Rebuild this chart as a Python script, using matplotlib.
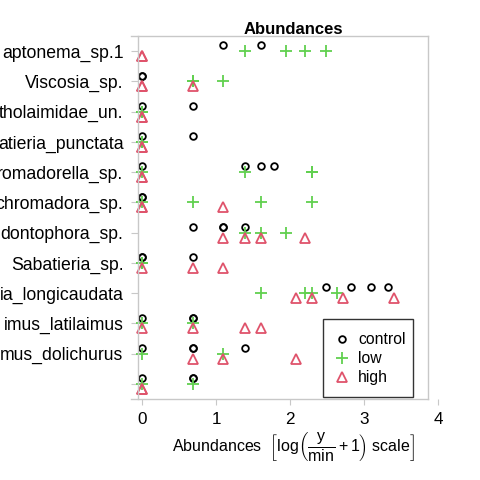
import matplotlib
matplotlib.use("Agg")
import matplotlib.pyplot as plt
from matplotlib.patches import Rectangle
import numpy as np

plt.rcParams['font.family'] = ['Liberation Sans', 'DejaVu Sans']
plt.rcParams['mathtext.fontset'] = 'custom'
plt.rcParams['mathtext.rm'] = 'Liberation Sans'
plt.rcParams['mathtext.it'] = 'Liberation Sans'

# species (top to bottom), as visible in the reference
species = ['aptonema_sp.1', 'Viscosia_sp.', 'tholaimidae_un.', 'atieria_punctata',
           'romadorella_sp.', 'chromadora_sp.', 'dontophora_sp.', 'Sabatieria_sp.',
           'ia_longicaudata', 'imus_latilaimus', 'mus_dolichurus', '']

# abundances on log(y/min + 1) scale, per treatment
control = [[1.10, 1.61], [0, 0], [0, 0.69], [0, 0.69],
           [0, 1.39, 1.61, 1.79], [0, 0], [0.69, 1.10, 1.10, 1.39], [0, 0, 0.69],
           [2.48, 2.83, 3.09, 3.33], [0, 0.69, 0.69], [0, 0.69, 0.69, 1.39], [0, 0.69, 0.69]]
low = [[1.39, 1.95, 2.20, 2.48], [0.69, 0.69, 1.10], [0, 0], [0, 0],
       [0, 1.39, 2.30, 2.30], [0, 0.69, 1.61, 2.30], [1.39, 1.61, 1.95], [0, 0],
       [1.61, 2.20, 2.30, 2.64], [0, 0.69], [0, 1.10], [0, 0.69]]
high = [[0, 0], [0, 0, 0.69], [0, 0], [0, 0],
        [0, 0], [0, 0, 1.10], [1.10, 1.39, 1.61, 2.20], [0, 0.69, 1.10],
        [2.08, 2.30, 2.71, 3.40], [0, 0.69, 1.39, 1.61], [0.69, 1.10, 2.08], [0, 0]]

treatments = ['control', 'low', 'high']
colors = {'control': 'black', 'low': '#61D04F', 'high': '#DF536B'}
markers = {'control': 'o', 'low': '+', 'high': '^'}
msizes = {'control': 4.8, 'low': 8.6, 'high': 7.8}
offsets = {'control': -0.19, 'low': 0.0, 'high': 0.165}
groups = {'control': control, 'low': low, 'high': high}

fig = plt.figure(figsize=(4.8, 4.8), dpi=100)
ax = fig.add_axes([131 / 480, 1 - 399 / 480, (439.5 - 131) / 480, 363 / 480])

for t in treatments:
    xs, ys = [], []
    for i, vals in enumerate(groups[t]):
        xs += list(vals)
        ys += [i + 1 + offsets[t]] * len(vals)
    ax.plot(xs, ys, linestyle='none', marker=markers[t], ms=msizes[t],
            mfc='none', mec=colors[t], mew=1.3, label=t)

ax.set_xlim(-0.1486, 4.02)
ax.set_ylim(12.5, 0.5)

gray = '#C8C8C8'
xr = 3.865
ax.spines['left'].set_position(('data', -0.054))
ax.spines['right'].set_position(('data', xr))
ax.spines['top'].set_bounds(-0.1486, xr)
ax.spines['bottom'].set_bounds(-0.1486, xr)
for s in ax.spines.values():
    s.set_color(gray)
    s.set_linewidth(1)

ax.set_yticks(np.arange(1, len(species) + 1))
ax.set_yticklabels(species, fontsize=12.7)
ax.set_xticks([0, 1, 2, 3, 4])
ax.set_xticklabels(['0', '1', '2', '3', '4'], fontsize=12.3)
ax.tick_params(axis='y', length=5, color=gray, pad=5.5)
ax.tick_params(axis='x', length=4, color=gray, pad=5)

fig.text(293 / 480, 1 - 30 / 480, 'Abundances', ha='center', va='center',
         fontsize=12, fontweight='bold')
fig.text(172 / 480, 1 - 446 / 480,
         r'Abundances  $\left[\mathrm{log}\left(\dfrac{\mathrm{y}}{\mathrm{min}}+1\right)\ \mathrm{scale}\right]$',
         ha='left', va='center', fontsize=11.5)

# legend box drawn separately to match the reference frame
fig.patches.append(Rectangle((323 / 480, 1 - 397 / 480), 90 / 480, 78 / 480,
                             transform=fig.transFigure, fill=False,
                             edgecolor='#333333', linewidth=1))
leg = ax.legend(loc='upper left', bbox_to_anchor=(334 / 480, 1 - 332 / 480),
                bbox_transform=fig.transFigure, fontsize=11.3, frameon=False,
                handlelength=1.0, handletextpad=0.55,
                borderpad=0, labelspacing=0.27, borderaxespad=0)

fig.savefig('out.png', dpi=100)
